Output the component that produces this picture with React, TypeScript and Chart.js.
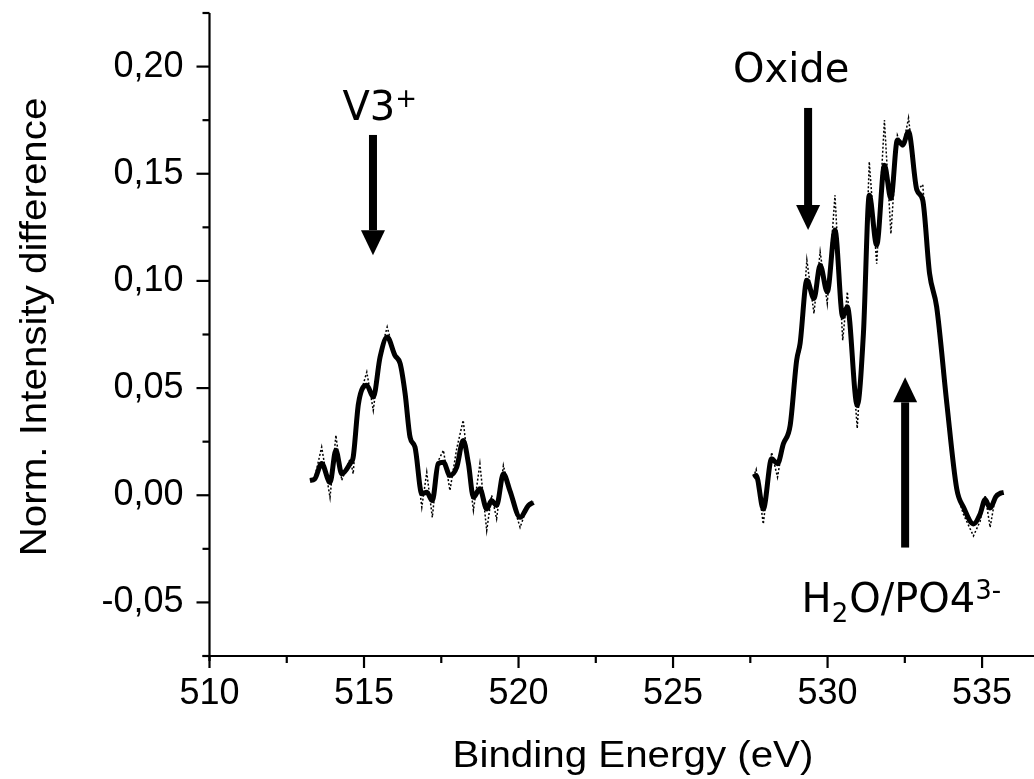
import React, { useEffect, useRef } from "react";
import { Chart, registerables } from "chart.js";

Chart.register(...registerables);

// ---- data (Binding energy in eV, normalised intensity difference) ----
const leftEnergy = [513.25, 513.40, 513.63, 513.90, 514.09, 514.28, 514.55, 514.65, 514.82, 515.09, 515.30, 515.52, 515.75, 516.00, 516.17, 516.33, 516.49, 516.65, 516.87, 517.03, 517.21, 517.40, 517.57, 517.78, 518.00, 518.21, 518.38, 518.54, 518.75, 518.97, 519.13, 519.29, 519.51, 519.72, 520.05, 520.32, 520.48];
const leftSmooth = [0.0069, 0.0075, 0.0148, 0.0060, 0.0210, 0.0100, 0.0148, 0.0178, 0.0427, 0.0513, 0.0458, 0.0645, 0.0738, 0.0653, 0.0614, 0.0474, 0.0271, 0.0224, 0.0007, 0.0014, -0.0025, 0.0147, 0.0154, 0.0092, 0.0131, 0.0256, 0.0147, -0.0009, 0.0030, -0.0064, -0.0025, -0.0048, 0.0100, 0.0022, -0.0103, -0.0048, -0.0033];
const leftRaw = [0.0069, 0.0080, 0.0225, -0.0010, 0.0280, 0.0070, 0.0170, 0.0100, 0.0440, 0.0575, 0.0396, 0.0660, 0.0785, 0.0650, 0.0600, 0.0480, 0.0300, 0.0210, -0.0056, 0.0107, -0.0103, 0.0160, 0.0210, 0.0022, 0.0218, 0.0350, 0.0120, -0.0071, 0.0147, -0.0165, 0.0000, -0.0110, 0.0139, 0.0010, -0.0150, -0.0040, -0.0030];

const rightEnergy = [527.60, 527.69, 527.92, 528.19, 528.38, 528.57, 528.79, 529.00, 529.11, 529.33, 529.56, 529.76, 529.99, 530.24, 530.49, 530.64, 530.96, 531.16, 531.35, 531.59, 531.84, 532.05, 532.26, 532.43, 532.62, 532.89, 533.08, 533.30, 533.53, 533.86, 534.18, 534.40, 534.72, 534.94, 535.10, 535.26, 535.45, 535.60, 535.70];
const rightSmooth = [0.0084, 0.0092, -0.0064, 0.0170, 0.0147, 0.0240, 0.0326, 0.0630, 0.0707, 0.1003, 0.0918, 0.1073, 0.0949, 0.1237, 0.0832, 0.0879, 0.0419, 0.0754, 0.1400, 0.1167, 0.1540, 0.1385, 0.1658, 0.1634, 0.1696, 0.1424, 0.1377, 0.1035, 0.0879, 0.0427, 0.0030, -0.0056, -0.0134, -0.0086, -0.0020, -0.0060, -0.0006, 0.0010, 0.0013];
const rightRaw = [0.0084, 0.0120, -0.0134, 0.0200, 0.0084, 0.0250, 0.0300, 0.0660, 0.0660, 0.1097, 0.0848, 0.1136, 0.0895, 0.1400, 0.0723, 0.0949, 0.0312, 0.0780, 0.1556, 0.1080, 0.1750, 0.1220, 0.1680, 0.1620, 0.1760, 0.1420, 0.1450, 0.1030, 0.0860, 0.0430, 0.0010, -0.0090, -0.0190, -0.0120, 0.0000, -0.0150, 0.0010, 0.0000, 0.0013];

const gapEnergy = 524;

// tick labels
const xTickValues = [510, 515, 520, 525, 530, 535];
const yTickValues = [-0.05, 0, 0.05, 0.1, 0.15, 0.2];

// axis settings
const xMin = 510;
const xMax = 536.68;
const xMinorStep = 2.5;
const yMin = -0.075;
const yMax = 0.225;
const yMinorStep = 0.025;

const xTitle = "Binding Energy (eV)";
const yTitle = "Norm. Intensity difference";

// annotations (data coordinates)
const arrows = [
  { x: 515.29, from: 0.1681, to: 0.112 },
  { x: 529.37, from: 0.1807, to: 0.1237 },
  { x: 532.51, from: -0.0244, to: 0.055 },
];

type Seg = { t: string; kind?: "sub" | "sup" };
const labels: { x: number; y: number; parts: Seg[] }[] = [
  { x: 514.3, y: 0.1751, parts: [{ t: "V3" }, { t: "+", kind: "sup" }] },
  { x: 526.94, y: 0.1928, parts: [{ t: "Oxide" }] },
  {
    x: 529.16,
    y: -0.0547,
    parts: [
      { t: "H" },
      { t: "2", kind: "sub" },
      { t: "O/PO4" },
      { t: "3-", kind: "sup" },
    ],
  },
];

const sansFont = '"Liberation Sans", Arial, Helvetica, sans-serif';
const noteFont = '"Comic Sans MS", "DejaVu Sans", sans-serif';

const toPoints = (xs: number[], ys: number[]) =>
  xs.map((x, i) => ({ x, y: ys[i] }));

const isMultiple = (v: number, step: number) =>
  Math.abs(v / step - Math.round(v / step)) < 1e-6;

const decorPlugin = {
  id: "decor",
  afterDraw(chart: any) {
    const ctx: CanvasRenderingContext2D = chart.ctx;
    const xs = chart.scales.x;
    const ys = chart.scales.y;
    const { left, top, bottom } = chart.chartArea;
    ctx.save();
    ctx.strokeStyle = "#000";
    ctx.fillStyle = "#000";
    ctx.lineWidth = 2.2;
    ctx.lineCap = "butt";
    // axes
    ctx.beginPath();
    ctx.moveTo(left, top);
    ctx.lineTo(left, bottom + 5);
    ctx.moveTo(left - 7, bottom);
    ctx.lineTo(chart.width, bottom);
    ctx.stroke();
    // y ticks
    const ny = Math.round((yMax - yMin) / yMinorStep);
    for (let i = 0; i <= ny; i++) {
      const v = yMin + i * yMinorStep;
      const major = isMultiple(v, 0.05);
      const py = ys.getPixelForValue(v);
      ctx.beginPath();
      ctx.moveTo(left, py);
      ctx.lineTo(left - (major ? 13 : 7), py);
      ctx.stroke();
    }
    // x ticks
    const nx = Math.floor((xMax - xMin) / xMinorStep + 1e-6);
    for (let i = 0; i <= nx; i++) {
      const v = xMin + i * xMinorStep;
      const major = isMultiple(v, 5);
      const px = xs.getPixelForValue(v);
      ctx.beginPath();
      ctx.moveTo(px, bottom);
      ctx.lineTo(px, bottom + (major ? 12 : 7));
      ctx.stroke();
    }
    // axis titles
    ctx.textAlign = "center";
    ctx.textBaseline = "alphabetic";
    ctx.font = `36px ${sansFont}`;
    ctx.save();
    ctx.translate(633, 767);
    ctx.scale(1.12, 1);
    ctx.fillText(xTitle, 0, 0);
    ctx.restore();
    ctx.save();
    ctx.translate(46, 327);
    ctx.rotate(-Math.PI / 2);
    ctx.scale(1.12, 1);
    ctx.fillText(yTitle, 0, 0);
    ctx.restore();
    // arrows
    for (const a of arrows) {
      const px = xs.getPixelForValue(a.x);
      const p0 = ys.getPixelForValue(a.from);
      const p1 = ys.getPixelForValue(a.to);
      const dir = p1 > p0 ? 1 : -1;
      const headLen = 25;
      const headHalf = 12;
      const shaftHalf = 4;
      const base = p1 - dir * headLen;
      ctx.fillRect(px - shaftHalf, Math.min(p0, base), shaftHalf * 2, Math.abs(base - p0));
      ctx.beginPath();
      ctx.moveTo(px - headHalf, base);
      ctx.lineTo(px + headHalf, base);
      ctx.lineTo(px, p1);
      ctx.closePath();
      ctx.fill();
    }
    // labels
    ctx.textAlign = "left";
    for (const l of labels) {
      let px = xs.getPixelForValue(l.x);
      const py = ys.getPixelForValue(l.y);
      for (const p of l.parts) {
        let size = 40;
        let dy = 0;
        if (p.kind === "sub") {
          size = 26;
          dy = 10;
        } else if (p.kind === "sup") {
          size = 26;
          dy = -13;
        }
        ctx.font = `${size}px ${noteFont}`;
        ctx.fillText(p.t, px, py + dy);
        px += ctx.measureText(p.t).width + (p.kind ? 1 : 0);
      }
    }
    ctx.restore();
  },
};

export default function App() {
  const canvasRef = useRef<HTMLCanvasElement | null>(null);

  useEffect(() => {
    const canvas = canvasRef.current;
    if (!canvas) return;
    const smooth = [
      ...toPoints(leftEnergy, leftSmooth),
      { x: gapEnergy, y: null as any },
      ...toPoints(rightEnergy, rightSmooth),
    ];
    const raw = [
      ...toPoints(leftEnergy, leftRaw),
      { x: gapEnergy, y: null as any },
      ...toPoints(rightEnergy, rightRaw),
    ];
    const chart = new Chart(canvas, {
      type: "line",
      data: {
        datasets: [
          {
            label: "smoothed",
            data: smooth,
            borderColor: "#000",
            borderWidth: 5,
            pointRadius: 0,
            cubicInterpolationMode: "monotone",
            spanGaps: false,
            fill: false,
          },
          {
            label: "raw",
            data: raw,
            borderColor: "#000",
            borderWidth: 1.5,
            borderDash: [2, 2],
            pointRadius: 0,
            tension: 0,
            spanGaps: false,
            fill: false,
          },
        ],
      },
      options: {
        animation: false,
        responsive: false,
        maintainAspectRatio: false,
        layout: { padding: { top: 13, right: 0, left: 0, bottom: 0 } },
        plugins: {
          legend: { display: false },
          tooltip: { enabled: false },
        },
        scales: {
          x: {
            type: "linear",
            min: xMin,
            max: xMax,
            grid: { display: false, drawTicks: false },
            border: { display: false },
            afterBuildTicks: (s: any) => {
              s.ticks = xTickValues.map((value) => ({ value }));
            },
            ticks: {
              autoSkip: false,
              maxRotation: 0,
              padding: 16,
              color: "#000",
              font: { size: 36, family: sansFont },
              callback: (v: any) => String(v),
            },
            afterFit: (s: any) => {
              s.height = 123;
              s.paddingLeft = 0;
              s.paddingRight = 0;
            },
          },
          y: {
            type: "linear",
            min: yMin,
            max: yMax,
            grid: { display: false, drawTicks: false },
            border: { display: false },
            afterBuildTicks: (s: any) => {
              s.ticks = yTickValues.map((value) => ({ value }));
            },
            ticks: {
              autoSkip: false,
              padding: 26,
              color: "#000",
              font: { size: 36, family: sansFont },
              callback: (v: any) => Number(v).toFixed(2).replace(".", ","),
            },
            afterFit: (s: any) => {
              s.width = 209.5;
              s.paddingTop = 0;
              s.paddingBottom = 0;
            },
          },
        },
      },
      plugins: [decorPlugin],
    });
    return () => chart.destroy();
  }, []);

  return (
    <div
      style={{
        position: "fixed",
        left: 0,
        top: 0,
        width: 1034,
        height: 779,
        background: "#fff",
      }}
    >
      <canvas
        ref={canvasRef}
        width={1034}
        height={779}
        style={{ display: "block", width: 1034, height: 779 }}
      />
    </div>
  );
}
